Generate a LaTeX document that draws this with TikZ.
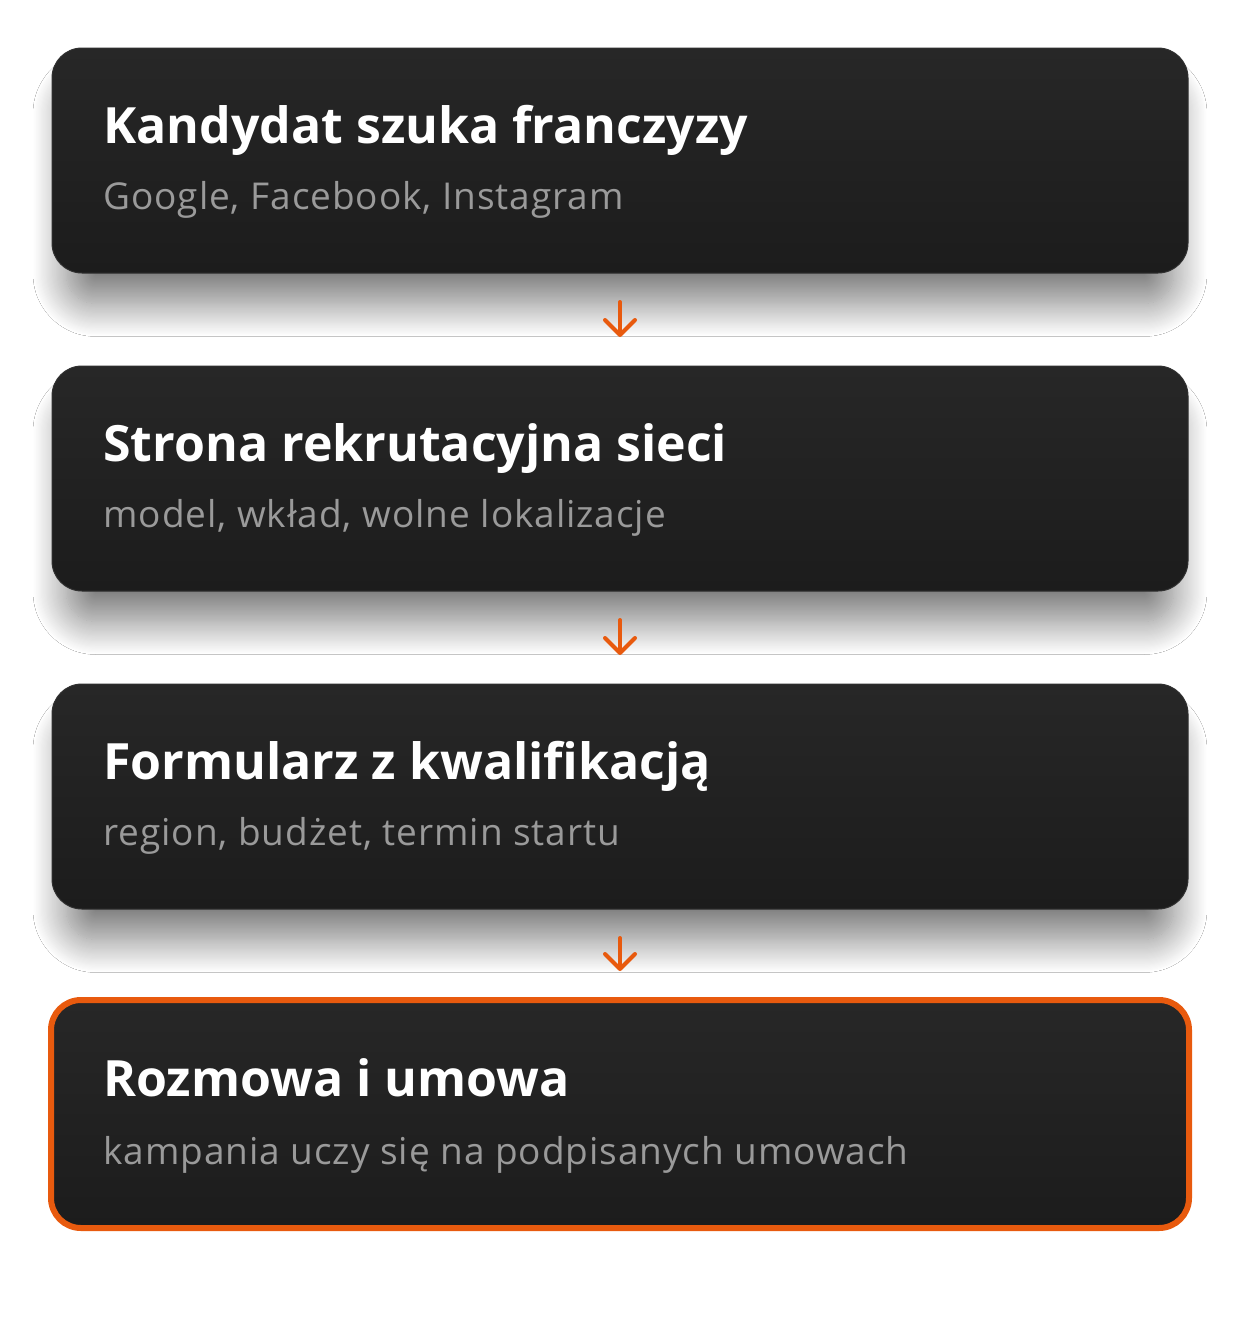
\documentclass[tikz,border=0pt]{standalone}
\usepackage{fontspec}
\setmainfont{Open Sans}
\usetikzlibrary{positioning}
\usetikzlibrary{math}
\usetikzlibrary{arrows.meta}
\usetikzlibrary{shadows.blur}
\definecolor{cardtop}{HTML}{272727}
\definecolor{cardbot}{HTML}{1C1C1C}
\definecolor{cardedge}{HTML}{303030}
\definecolor{accent}{HTML}{E85A0E}
\definecolor{subgray}{HTML}{9A9A9A}
\tikzset{card/.style={rectangle, rounded corners=15pt, minimum width=568pt, minimum height=112.5pt, inner sep=0pt, outer sep=0pt, top color=cardtop, bottom color=cardbot, draw=cardedge, line width=0.5pt},
	shadowed/.style={blur shadow={shadow xshift=0pt, shadow yshift=-17pt, shadow blur radius=17pt, shadow blur steps=30, shadow scale=0.975, shadow opacity=52}},
	lastcard/.style={card, draw=accent, line width=3pt, minimum width=569pt, minimum height=114pt},
	headline/.style={anchor=base west, inner sep=0pt, text=white, font=\bfseries\fontsize{25}{30}\selectfont},
	subline/.style={anchor=base west, inner sep=0pt, text=subgray, font=\fontsize{18.5}{22}\selectfont\addfontfeatures{LetterSpace=2.5}},
	flow/.style={-{Straight Barb[length=7.5pt,width=15pt,line cap=round,line join=round]}, draw=accent, line width=2pt, line cap=round, shorten <=14.5pt, shorten >=14.5pt}}

\begin{document}
\begin{tikzpicture}[x=0.5pt,y=-0.5pt]
	\tikzmath{\W=1240; \H=1328; \cx=620; \cy=160.5;}
	\useasboundingbox[fill=white] (0,0) rectangle (\W,\H);
	\node[card,shadowed] (b1) at (\cx,\cy) {};
	\node[card,shadowed,below=46.5pt of b1] (b2) {};
	\node[card,shadowed,below=46.5pt of b2] (b3) {};
	\node[lastcard,below=45.5pt of b3] (b4) {};
	\node[headline] (t1) at ([xshift=25.5pt,yshift=-47.5pt]b1.north west) {Kandydat szuka franczyzy};
	\node[subline] (s1) at ([xshift=25.5pt,yshift=-80.5pt]b1.north west) {Google, Facebook, Instagram};
	\node[headline] (t2) at ([xshift=25.5pt,yshift=-47.5pt]b2.north west) {Strona rekrutacyjna sieci};
	\node[subline] (s2) at ([xshift=25.5pt,yshift=-80.5pt]b2.north west) {model, wkład, wolne lokalizacje};
	\node[headline] (t3) at ([xshift=25.5pt,yshift=-47.5pt]b3.north west) {Formularz z kwalifikacją};
	\node[subline] (s3) at ([xshift=25.5pt,yshift=-80.5pt]b3.north west) {region, budżet, termin startu};
	\node[headline] (t4) at ([xshift=26pt,yshift=-48pt]b4.north west) {Rozmowa i umowa};
	\node[subline] (s4) at ([xshift=26pt,yshift=-82pt]b4.north west) {kampania uczy się na podpisanych umowach};
	\draw[flow] (b1) -- (b2);
	\draw[flow] (b2) -- (b3);
	\draw[flow] (b3) -- (b4);
\end{tikzpicture}
\end{document}
